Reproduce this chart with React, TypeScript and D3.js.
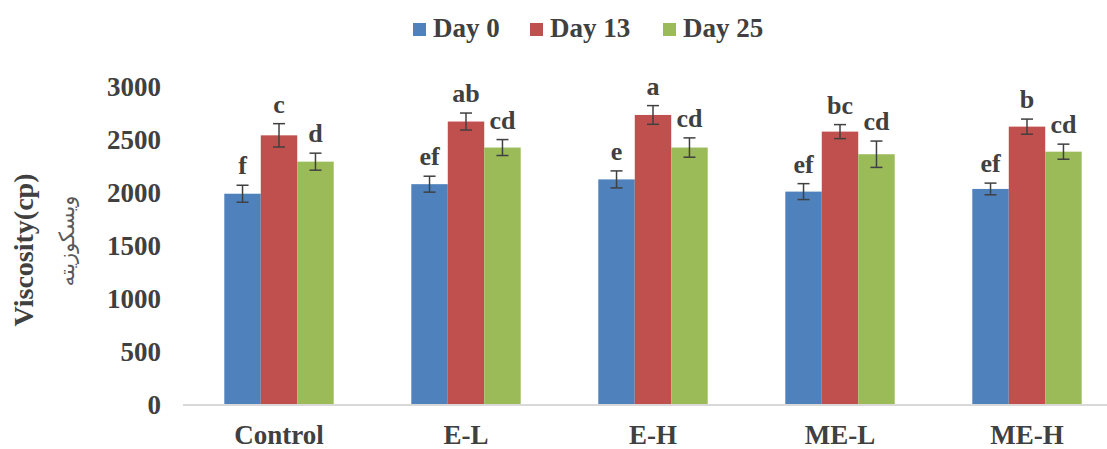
import React from "react";
import * as d3 from "d3";

const categories = ["Control", "E-L", "E-H", "ME-L", "ME-H"];
const seriesNames = ["Day 0", "Day 13", "Day 25"];
const day0 = [1990, 2080, 2125, 2010, 2035];
const day13 = [2540, 2670, 2732, 2575, 2622];
const day25 = [2292, 2425, 2425, 2362, 2386];
const err0 = [80, 75, 80, 75, 55];
const err13 = [110, 80, 88, 66, 71];
const err25 = [80, 75, 91, 124, 71];
const letters0 = ["f", "ef", "e", "ef", "ef"];
const letters13 = ["c", "ab", "a", "bc", "b"];
const letters25 = ["d", "cd", "cd", "cd", "cd"];
const yTicks = [0, 500, 1000, 1500, 2000, 2500, 3000];

const W = 1107;
const H = 449;
const colors = ["#4F81BD", "#C0504D", "#9BBB59"];
const textColor = "#404040";
const serif: React.CSSProperties = { fontFamily: "Liberation Serif, Times New Roman, serif", fontWeight: 700 };

export default function App() {
  const values = [day0, day13, day25];
  const errs = [err0, err13, err25];
  const letters = [letters0, letters13, letters25];

  const y = d3.scaleLinear().domain([0, 3000]).range([405, 86.5]);
  const x = d3.scaleBand().domain(categories).range([185.5, 1120.5]).paddingInner(0).paddingOuter(0);
  const barW = x.bandwidth() * 0.195;
  const legendX = [413, 530, 663];

  return (
    <svg width={W} height={H} style={{ position: "absolute", left: 0, top: 0, background: "#fff" }}>
      {/* legend */}
      {seriesNames.map((s, i) => (
        <g key={s}>
          <rect x={legendX[i]} y={23} width={13} height={13} fill={colors[i]} />
          <text x={legendX[i] + 20} y={37} style={serif} fontSize={27} fill={textColor}>
            {s}
          </text>
        </g>
      ))}

      {/* y tick labels */}
      {yTicks.map((t) => (
        <text key={t} x={161} y={y(t)} dy="0.35em" textAnchor="end" style={serif} fontSize={27} fill={textColor}>
          {t}
        </text>
      ))}

      {/* y axis title */}
      <text transform={`translate(33,250) rotate(-90)`} textAnchor="middle" style={serif} fontSize={28} fill={textColor}>
        Viscosity(cp)
      </text>
      <text
        transform={`translate(74,241) rotate(-90)`}
        textAnchor="middle"
        style={{ fontFamily: "DejaVu Sans, sans-serif" }}
        fontSize={21}
        fill="#595959"
      >
        ویسکوزیته
      </text>

      {/* bars */}
      {categories.map((c, ci) => {
        const cx = (x(c) as number) + x.bandwidth() / 2;
        return (
          <g key={c}>
            {values.map((vals, si) => {
              const bx = cx + (si - 1.5) * barW;
              const v = vals[ci];
              const e = errs[si][ci];
              const mx = bx + barW / 2;
              return (
                <g key={si}>
                  <rect x={bx} y={y(v)} width={barW} height={y(0) - y(v)} fill={colors[si]} />
                  <line x1={mx} x2={mx} y1={y(v + e)} y2={y(v - e)} stroke="#404040" strokeWidth={1.5} />
                  <line x1={mx - 6} x2={mx + 6} y1={y(v + e)} y2={y(v + e)} stroke="#404040" strokeWidth={1.5} />
                  <line x1={mx - 6} x2={mx + 6} y1={y(v - e)} y2={y(v - e)} stroke="#404040" strokeWidth={1.5} />
                  <text x={mx} y={y(v + e) - 11} textAnchor="middle" style={serif} fontSize={26} fill={textColor}>
                    {letters[si][ci]}
                  </text>
                </g>
              );
            })}
            <text x={cx} y={444} textAnchor="middle" style={serif} fontSize={27} fill={textColor}>
              {c}
            </text>
          </g>
        );
      })}

      {/* x axis line */}
      <line x1={183} x2={W} y1={y(0)} y2={y(0)} stroke="#d9d9d9" strokeWidth={2} />
    </svg>
  );
}
